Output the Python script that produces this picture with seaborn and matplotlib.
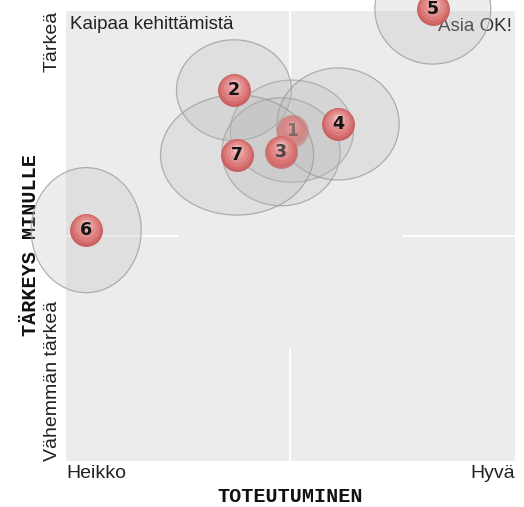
import matplotlib
matplotlib.use("Agg")
import matplotlib.pyplot as plt
import seaborn as sns
import pandas as pd
from matplotlib.patches import Ellipse
from matplotlib.transforms import offset_copy

# ---- data ----
ids = ["1", "2", "3", "4", "5", "6", "7"]
toteutuminen = [5.03, 3.74, 4.79, 6.06, 8.17, 0.45, 3.81]   # x
tarkeys = [7.33, 8.24, 6.87, 7.49, 10.04, 5.13, 6.80]        # y
spread_x = [2.74, 2.56, 2.63, 2.72, 2.58, 2.45, 3.41]         # ellipse width
spread_y = [2.27, 2.24, 2.40, 2.49, 2.44, 2.78, 2.67]         # ellipse height
point_alpha = [0.35, 1.0, 0.8, 1.0, 1.0, 1.0, 1.0]
x_labels = ["Heikko", "Hyvä"]
y_labels = ["Vähemmän tärkeä", "Tärkeä"]
corner_texts = ["Kaipaa kehittämistä", "Asia OK!"]

df = pd.DataFrame({"id": ids, "x": toteutuminen, "y": tarkeys,
                   "w": spread_x, "h": spread_y, "a": point_alpha})

sns.set_theme(style="white")
plt.rcParams["font.family"] = ["Liberation Sans", "DejaVu Sans"]

fig = plt.figure(figsize=(5.24, 5.07), dpi=100)
ax = fig.add_axes([66 / 524, 46 / 507, 449 / 524, 450 / 507])
ax.set_facecolor("#ecedeb")
for s in ax.spines.values():
    s.set_visible(False)
ax.set_xlim(0, 10)
ax.set_ylim(0, 10)

# crosshair with central gap
lo, hi = 0, 10
mid = (lo + hi) / 2
gap = (hi - lo) / 4
for a0, a1 in [(lo, mid - gap), (mid + gap, hi)]:
    ax.plot([a0, a1], [mid, mid], color="white", lw=1.5, zorder=1)
    ax.plot([mid, mid], [a0, a1], color="white", lw=1.5, zorder=1)

# corner texts
ax.text(0.009, 0.988, corner_texts[0], transform=ax.transAxes, ha="left", va="top",
        fontsize=13.5, color="#222222", zorder=2)
ax.text(0.993, 0.985, corner_texts[1], transform=ax.transAxes, ha="right", va="top",
        fontsize=13.5, color="#333333", zorder=2)

# ellipses
for _, r in df.iterrows():
    e = Ellipse((r.x, r.y), r.w, r.h, facecolor=(0.72, 0.72, 0.72, 0.25),
                edgecolor=(0.6, 0.6, 0.6, 0.75), lw=0.9, zorder=3, clip_on=False)
    ax.add_patch(e)

# spheres (gradient layers)
base_s = 560
layers = [(1.0, "#c95d5d", 0), (0.86, "#d46b6b", 0.6), (0.65, "#dc7b7b", 1.3),
          (0.4, "#e38c8c", 2.2), (0.18, "#eaa2a2", 3.2), (0.06, "#f0baba", 4.2)]
for alpha_val in sorted(set(point_alpha)):
    sub = df[df.a == alpha_val]
    for k, (frac, col, dy) in enumerate(layers):
        sns.scatterplot(data=sub, x="x", y="y", s=base_s * frac, color=col,
                        linewidth=0, alpha=alpha_val, legend=False, ax=ax,
                        zorder=5 + k * 0.01, clip_on=False)
        coll = ax.collections[-1]
        coll.set_offset_transform(offset_copy(ax.transData, fig=fig, x=0, y=dy, units="points"))

for _, r in df.iterrows():
    if r.a == 1:
        col = (0.08, 0.08, 0.08, 1.0)
    elif r.a < 0.5:
        col = (0.3, 0.3, 0.3, 0.6)
    else:
        col = (0.2, 0.2, 0.2, 0.85)
    ax.text(r.x, r.y, r.id, ha="center", va="center", fontsize=12.5, fontweight="bold",
            color=col, zorder=6, family=["DejaVu Sans"])

# ticks
ax.set_xticks([lo, hi])
ax.set_xticklabels(x_labels, fontsize=14, color="#222222")
ax.set_yticks([lo, hi])
ax.set_yticklabels(y_labels, fontsize=14, color="#222222", rotation=90)
xt = ax.get_xticklabels()
xt[0].set_ha("left")
xt[1].set_ha("right")
yt = ax.get_yticklabels()
yt[0].set_va("bottom")
yt[1].set_va("top")
for t in yt:
    t.set_ha("center")
ax.tick_params(axis="x", which="major", length=0, pad=3)
ax.tick_params(axis="y", which="major", length=0, pad=10)
ax.set_xticks(range(1, 10), minor=True)
ax.set_yticks(range(1, 10), minor=True)
ax.tick_params(axis="both", which="minor", direction="in", length=8, width=1.5, color="white")

mono = ["Liberation Mono", "DejaVu Sans Mono"]
ax.set_xlabel("TOTEUTUMINEN", family=mono, fontweight="bold", fontsize=14.5, labelpad=3, color="#111111")
ax.set_ylabel("TÄRKEYS MINULLE", family=mono, fontweight="bold", fontsize=14.5, labelpad=2, color="#111111")
ax.yaxis.set_label_coords(-35 / 449, 0.48)
ax.yaxis.label.set_va("center")
ax.xaxis.set_label_coords(0.5, -35 / 450)
ax.xaxis.label.set_va("center")

fig.savefig("out.png", dpi=100)
